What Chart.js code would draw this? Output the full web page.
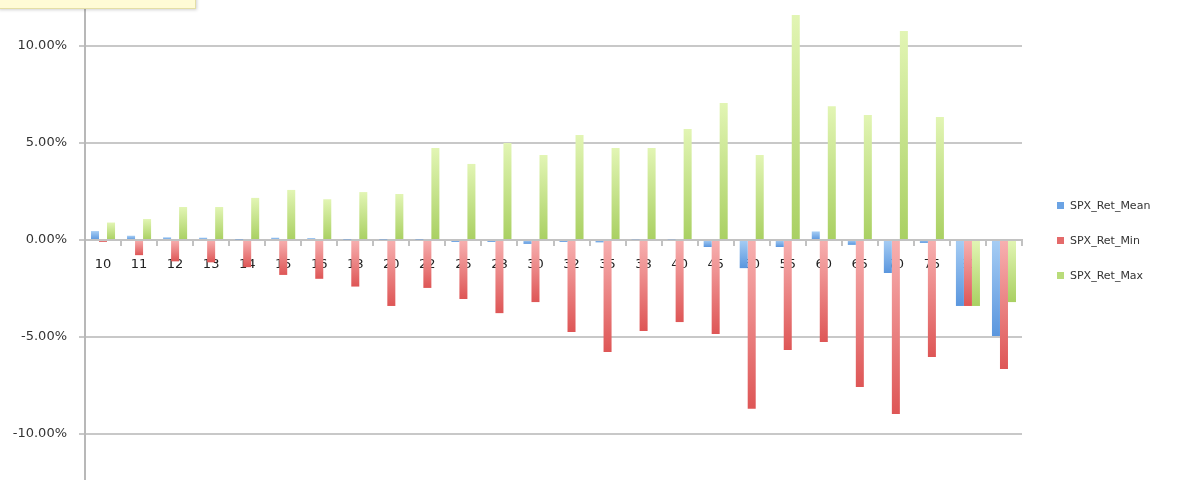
<!DOCTYPE html>
<html>
<head>
<meta charset="utf-8">
<title>SPX returns</title>
<script src="https://cdn.jsdelivr.net/npm/chart.js@4/dist/chart.umd.min.js"></script>
<style>
  html, body { margin: 0; padding: 0; background: #fff; }
  #wrap { position: relative; width: 1200px; height: 480px; overflow: hidden; }
  #note {
    position: absolute; left: -2px; top: -10px; width: 196px; height: 17px;
    background: #fffbd6; border: 1px solid #e4dea6;
    box-shadow: 1px 1px 3px rgba(0, 0, 0, 0.18);
  }
  .lg { position: absolute; left: 1057px; font: 11px "DejaVu Sans", sans-serif; color: #333; white-space: nowrap; }
  .lg span { display: inline-block; width: 7px; height: 7px; margin-right: 6px; vertical-align: 0px; }
</style>
</head>
<body>
<div id="wrap">
  <canvas id="chart" width="1200" height="480"></canvas>
  <div id="note"></div>
</div>
<script>
const categories = ["10", "11", "12", "13", "14", "15", "16", "18", "20", "22", "25", "28", "30",
                    "32", "35", "38", "40", "45", "50", "55", "60", "65", "70", "75", "80", "100"];
const meanRet = [0.46, 0.22, 0.14, 0.12, 0.03, 0.12, 0.10, 0.03, 0.03, 0.03, -0.10, -0.10, -0.20,
                 -0.10, -0.12, 0.04, 0.04, -0.36, -1.45, -0.36, 0.44, -0.25, -1.70, -0.15, -3.40, -4.95];
const minRet  = [-0.10, -0.78, -1.10, -1.15, -1.40, -1.80, -2.00, -2.40, -3.40, -2.47, -3.04, -3.77, -3.20,
                 -4.74, -5.77, -4.69, -4.23, -4.85, -8.70, -5.67, -5.26, -7.58, -8.97, -6.03, -3.40, -6.65];
const maxRet  = [0.90, 1.08, 1.70, 1.70, 2.17, 2.58, 2.10, 2.47, 2.37, 4.74, 3.92, 5.00, 4.38,
                 5.41, 4.74, 4.74, 5.72, 7.06, 4.38, 11.60, 6.90, 6.44, 10.77, 6.34, -3.40, -3.20];
const seriesNames = ["SPX_Ret_Mean", "SPX_Ret_Min", "SPX_Ret_Max"];
const yTicks = [-10, -5, 0, 5, 10];

const seriesColors = [
    { light: "#a6cdf4", dark: "#5a96de", key: "#6ba3e4" },
    { light: "#f7b0b0", dark: "#de5656", key: "#e46a6a" },
    { light: "#e2f5b4", dark: "#a9d062", key: "#b9dc7a" },
];

// vertical gradient per bar, light on top, darker at the bottom
function barGradient(c, col) {
    if (c.type !== "data") return col.dark;
    const chart = c.chart;
    const ys = chart.scales.y;
    if (!chart.chartArea || !ys) return col.dark;
    const a = ys.getPixelForValue(0);
    const b = ys.getPixelForValue(c.raw);
    const top = Math.min(a, b), bot = Math.max(a, b);
    if (bot - top < 1) return col.dark;
    const g = chart.ctx.createLinearGradient(0, top, 0, bot);
    g.addColorStop(0, col.light);
    g.addColorStop(1, col.dark);
    return g;
}

const seriesData = [meanRet, minRet, maxRet];
const datasets = seriesNames.map((name, i) => ({
    label: name,
    data: seriesData[i],
    backgroundColor: (c) => barGradient(c, seriesColors[i]),
    borderWidth: 0,
    categoryPercentage: 0.667,
    barPercentage: 1.0,
}));

new Chart(document.getElementById("chart"), {
    type: "bar",
    data: { labels: categories, datasets: datasets },
    options: {
        responsive: false,
        animation: false,
        layout: { padding: { left: 0, right: 178, top: 0, bottom: 0 } },
        plugins: {
            legend: { display: false },
            tooltip: { enabled: false },
        },
        scales: {
            x: {
                position: { y: 0 },
                afterFit: (s) => { s.paddingLeft = 0; s.paddingRight = 0; s.height = 0; },
                grid: {
                    drawOnChartArea: false,
                    drawTicks: true,
                    tickLength: 5,
                    color: "#c2c2c2",
                    lineWidth: 2,
                    offset: true,
                },
                border: { display: true, color: "#c2c2c2", width: 2 },
                ticks: {
                    color: "#222",
                    font: { family: "DejaVu Sans", size: 13 },
                    padding: 12,
                    maxRotation: 0,
                    autoSkip: false,
                },
            },
            y: {
                min: -12.37,
                max: 12.37,
                afterBuildTicks: (s) => { s.ticks = yTicks.map(v => ({ value: v })); },
                afterFit: (s) => { s.width = 85; s.paddingTop = 0; s.paddingBottom = 0; },
                grid: { color: "#c8c8c8", lineWidth: 2, tickLength: 6 },
                border: { color: "#b8b8b8", width: 2 },
                ticks: {
                    callback: (v) => v.toFixed(2) + "%",
                    padding: 12,
                    color: "#333",
                    font: { family: "DejaVu Sans", size: 13 },
                },
            },
        },
    },
});

// legend as plain html next to the plot
const wrap = document.getElementById("wrap");
seriesNames.forEach((name, i) => {
    const d = document.createElement("div");
    d.className = "lg";
    d.style.top = (199 + i * 35) + "px";
    d.innerHTML = '<span style="background:' + seriesColors[i].key + '"></span>' + name;
    wrap.appendChild(d);
});
</script>
</body>
</html>
